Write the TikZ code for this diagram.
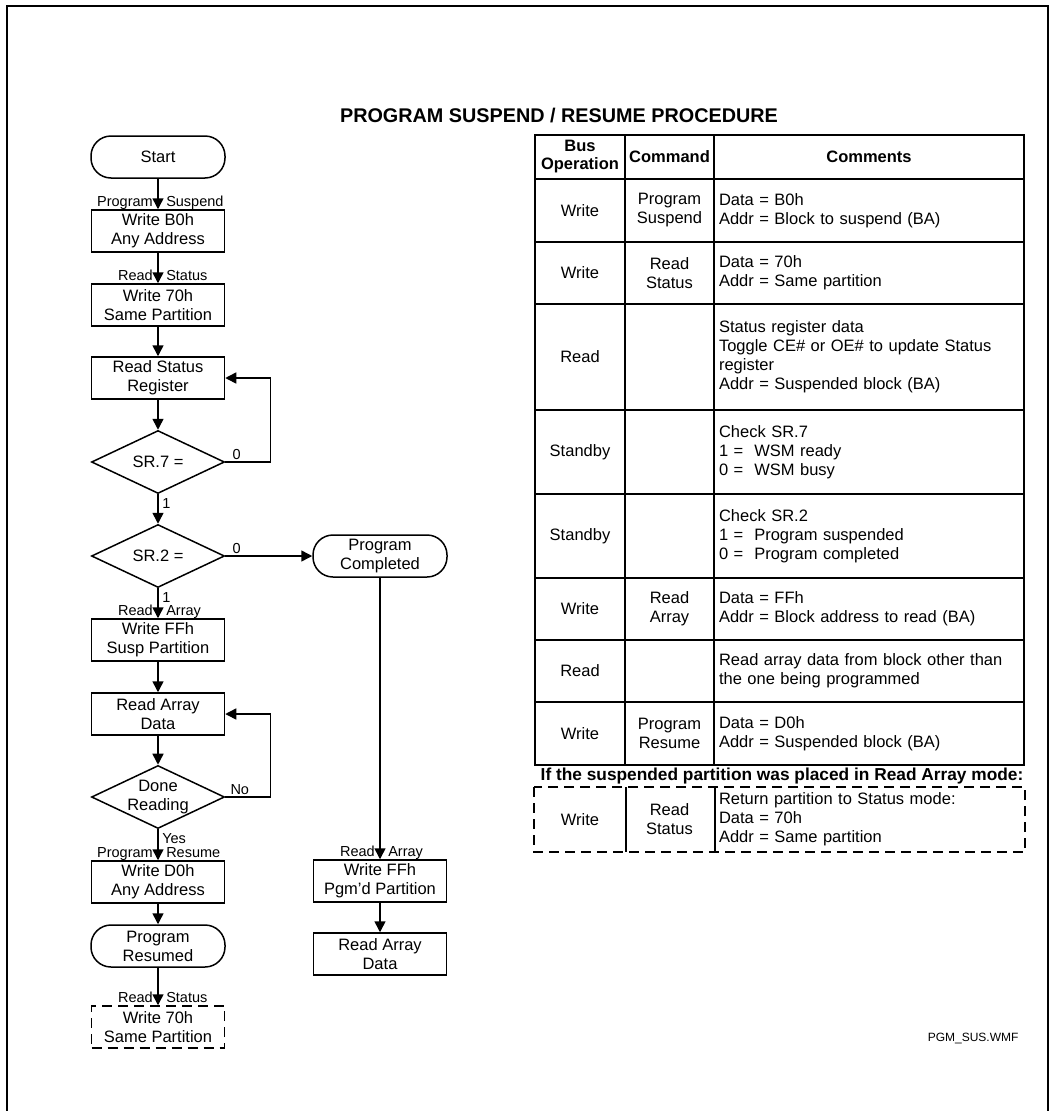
\documentclass[tikz,border=0pt]{standalone}
\usepackage{fontspec}
\setmainfont{Liberation Sans}
\usetikzlibrary{shapes.geometric,arrows.meta}

\begin{document}
\begin{tikzpicture}[x=1pt, y=-1pt,
    box/.style={
        draw,
        line width=1.5pt,
        minimum width=133pt,
        minimum height=42pt,
        inner sep=1pt,
        align=center,
        font=\fontsize{16.5}{19}\selectfont
    },
    term/.style={
        box,
        rounded corners=20pt,
        minimum width=134pt
    },
    dbox/.style={
        box,
        dash pattern=on 10pt off 6pt
    },
    decision/.style={
        box,
        diamond,
        aspect=2.1,
        inner sep=0pt,
        minimum width=133pt,
        minimum height=63pt
    },
    flow/.style={
        line width=1.5pt,
        -{Triangle[length=11pt,width=11pt]}
    },
    lbl/.style={
        inner sep=0.5pt,
        text height=10.5pt,
        text depth=3pt,
        font=\fontsize{14.5}{16}\selectfont
    },
    lleft/.style={lbl, pos=1, anchor=south east, xshift=-4pt, yshift=-1pt},
    lright/.style={lbl, pos=1, anchor=south west, xshift=7pt, yshift=-1pt},
    lout/.style={lbl, pos=0, anchor=north west, xshift=3pt, yshift=-2pt},
    cell/.style={
        draw,
        line width=2pt,
        inner sep=0pt,
        align=center,
        font=\fontsize{16.5}{19}\selectfont
    },
    ca/.style={cell, minimum width=90pt},
    cb/.style={cell, minimum width=89pt},
    cc/.style={cell, minimum width=310pt, text width=300pt, align=left},
    header/.style={cell, font=\bfseries\fontsize{16.5}{18}\selectfont}
]
\useasboundingbox (0,0) rectangle (1053,1111);

% frame
\draw[line width=1.5pt] (7,1120) -- (7,6) -- (1048,6) -- (1048,1120);

\node[font=\bfseries\fontsize{19.8}{22}\selectfont] (title) at (559,116)
    {PROGRAM SUSPEND / RESUME PROCEDURE};

%%%%%%%%%%%%%%%%%%%%%%%%
% Flowchart
%%%%%%%%%%%%%%%%%%%%%%%%

\node[term] (start) at (158,157) {Start};
\node[box] (wb0) at (158,231) {Write B0h\\Any Address};
\node[box] (w70) at (158,305) {Write 70h\\Same Partition};
\node[box] (rsr) at (158,378) {Read Status\\Register};
\node[decision] (sr7) at (158,462) {SR.7 =};
\node[decision] (sr2) at (158,556) {SR.2 =};
\node[box] (wff) at (158,640) {Write FFh\\Susp Partition};
\node[box] (rad) at (158,714) {Read Array\\Data};
\node[decision] (done) at (158,797) {Done\\Reading};
\node[box] (wd0) at (158,882) {Write D0h\\Any Address};
\node[term] (resumed) at (158,946) {Program\\Resumed};
\node[dbox] (w70b) at (158,1027) {Write 70h\\Same Partition};

\node[term] (pcomp) at (380,556) {Program\\Completed};
\node[box] (wffp) at (380,881) {Write FFh\\Pgm'd Partition};
\node[box] (rad2) at (380,954) {Read Array\\Data};

\draw[flow] (start) -- (wb0)
    node[lleft] (l1) {Program} node[lright] (r1) {Suspend};
\draw[flow] (wb0) -- (w70)
    node[lleft] (l2) {Read} node[lright] (r2) {Status};
\draw[flow] (w70) -- (rsr);
\draw[flow] (rsr) -- (sr7);
\draw[flow] (sr7.east) node[lbl, anchor=south west, xshift=6pt, yshift=-2pt] (z7) {0}
    -- ++(45,0) |- (rsr.east);
\draw[flow] (sr7) -- (sr2) node[lout] (o7) {1};
\draw[flow] (sr2.east) node[lbl, anchor=south west, xshift=6pt, yshift=-2pt] (z2) {0}
    -- (pcomp.west);
\draw[flow] (sr2) -- (wff) node[lout] (o2) {1}
    node[lleft] (l3) {Read} node[lright] (r3) {Array};
\draw[flow] (wff) -- (rad);
\draw[flow] (rad) -- (done);
\draw[flow] (done.east) node[lbl, anchor=south west, xshift=4pt, yshift=-2pt] (no) {No}
    -- ++(45,0) |- (rad.east);
\draw[flow] (done) -- (wd0) node[lout] (yes) {Yes}
    node[lleft] (l4) {Program} node[lright] (r4) {Resume};
\draw[flow] (wd0) -- (resumed);
\draw[flow] (resumed) -- (w70b)
    node[lleft] (l5) {Read} node[lright] (r5) {Status};

\draw[flow] (pcomp) -- (wffp)
    node[lleft] (l6) {Read} node[lright] (r6) {Array};
\draw[flow] (wffp) -- (rad2);

%%%%%%%%%%%%%%%%%%%%%%%%
% Table
%%%%%%%%%%%%%%%%%%%%%%%%

% --- Headers ---
\node[header, minimum width=90pt, minimum height=44pt] (h1) at (580,157) {Bus\\Operation};
\node[header, minimum width=89pt, minimum height=44pt] (h2) at (669.5,157) {Command};
\node[header, minimum width=310pt, minimum height=44pt] (h3) at (869,157) {Comments};

% --- Row 1 ---
\node[ca, minimum height=63pt] (a1) at (580,210.5) {Write};
\node[cb, minimum height=63pt] (b1) at (669.5,210.5) {Program\\Suspend};
\node[cc, minimum height=63pt] (c1) at (869,210.5) {Data = B0h\\Addr = Block to suspend (BA)};

% --- Row 2 ---
\node[ca, minimum height=62pt] (a2) at (580,273) {Write};
\node[cb, minimum height=62pt] (b2) at (669.5,273) {Read\\Status};
\node[cc, minimum height=62pt] (c2) at (869,273) {Data = 70h\\Addr = Same partition};

% --- Row 3 ---
\node[ca, minimum height=106pt] (a3) at (580,357) {Read};
\node[cb, minimum height=106pt] (b3) at (669.5,357) {};
\node[cc, minimum height=106pt] (c3) at (869,357) {Status register data\\Toggle CE\# or OE\# to update Status\\register\\Addr = Suspended block (BA)};

% --- Row 4 ---
\node[ca, minimum height=84pt] (a4) at (580,452) {Standby};
\node[cb, minimum height=84pt] (b4) at (669.5,452) {};
\node[cc, minimum height=84pt] (c4) at (869,452) {Check SR.7\\1 =~ WSM ready\\0 =~ WSM busy};

% --- Row 5 ---
\node[ca, minimum height=84pt] (a5) at (580,536) {Standby};
\node[cb, minimum height=84pt] (b5) at (669.5,536) {};
\node[cc, minimum height=84pt] (c5) at (869,536) {Check SR.2\\1 =~ Program suspended\\0 =~ Program completed};

% --- Row 6 ---
\node[ca, minimum height=62pt] (a6) at (580,609) {Write};
\node[cb, minimum height=62pt] (b6) at (669.5,609) {Read\\Array};
\node[cc, minimum height=62pt] (c6) at (869,609) {Data = FFh\\Addr = Block address to read (BA)};

% --- Row 7 ---
\node[ca, minimum height=62pt] (a7) at (580,671) {Read};
\node[cb, minimum height=62pt] (b7) at (669.5,671) {};
\node[cc, minimum height=62pt] (c7) at (869,671) {Read array data from block other than\\the one being programmed};

% --- Row 8 ---
\node[ca, minimum height=63pt] (a8) at (580,733.5) {Write};
\node[cb, minimum height=63pt] (b8) at (669.5,733.5) {Program\\Resume};
\node[cc, minimum height=63pt] (c8) at (869,733.5) {Data = D0h\\Addr = Suspended block (BA)};

% --- Optional row ---
\node[font=\bfseries\fontsize{17.3}{19}\selectfont] (note) at (782,776)
    {If the suspended partition was placed in Read Array mode:};
\node[ca, draw=none, minimum height=63pt] (a9) at (580,819.5) {Write};
\node[cb, draw=none, minimum height=63pt] (b9) at (669.5,819.5) {Read\\Status};
\node[cc, draw=none, minimum height=63pt] (c9) at (869,819.5) {Return partition to Status mode:\\Data = 70h\\Addr = Same partition};
\draw[line width=1.8pt, dash pattern=on 10pt off 6pt] (a9.north west) rectangle (c9.south east);
\draw[line width=1.8pt] (a9.north east) -- (a9.south east);
\draw[line width=1.8pt] (b9.north east) -- (b9.south east);

\node[font=\fontsize{12}{14}\selectfont, anchor=east] (fname) at (1022,1038) {PGM\_SUS.WMF};

\end{tikzpicture}
\end{document}
